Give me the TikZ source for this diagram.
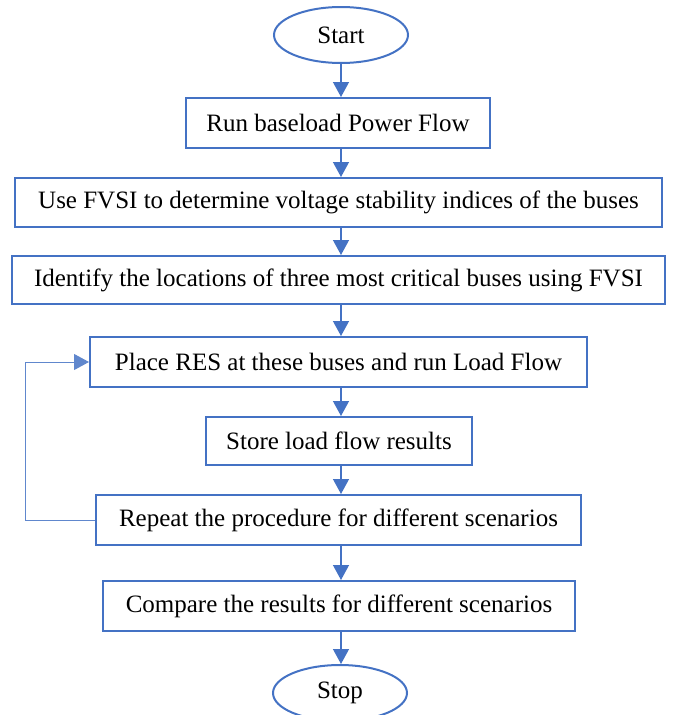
\documentclass[tikz,border=0pt]{standalone}
\usepackage{fontspec}
\setmainfont{Liberation Serif}
\usetikzlibrary{shapes.geometric,arrows.meta}

\definecolor{flowblue}{HTML}{4472C4}

\begin{document}
\begin{tikzpicture}[x=1pt,y=-1pt,
  every node/.style={font=\fontsize{25}{29}\selectfont, text=black},
  procbox/.style={draw=flowblue, line width=2pt, rectangle, inner sep=0pt, fill=white},
  terminal/.style={draw=flowblue, line width=2pt, ellipse, inner sep=0pt,
    minimum width=134, minimum height=56, fill=white},
  flow/.style={draw=flowblue, line width=1.3pt, -{Triangle[length=15pt,width=16pt]}},
  loopline/.style={draw=flowblue!85, line width=1pt, -{Triangle[length=15pt,width=16pt]}}]

\useasboundingbox (0,0) rectangle (676,715);

\node[terminal] (start) at (341,35) {Start};
\node[procbox, minimum width=304, minimum height=50] (b1) at (338,123) {Run baseload Power Flow};
\node[procbox, minimum width=647, minimum height=49] (b2) at (338.5,202.5) {Use FVSI to determine voltage stability indices of the buses};
\node[procbox, minimum width=653, minimum height=48] (b3) at (338.5,280) {Identify the locations of three most critical buses using FVSI};
\node[procbox, minimum width=497, minimum height=50] (b4) at (338.5,362) {Place RES at these buses and run Load Flow};
\node[procbox, minimum width=266, minimum height=48] (b5) at (339,441) {Store load flow results};
\node[procbox, minimum width=485, minimum height=50] (b6) at (338.5,520) {Repeat the procedure for different scenarios};
\node[procbox, minimum width=472, minimum height=50] (b7) at (339,606) {Compare the results for different scenarios};
\node[terminal] (stop) at (340,693) {Stop};

\draw[flow] (start.south) -- (start.south |- b1.north);
\draw[flow] (b1.south -| start.south) -- (start.south |- b2.north);
\draw[flow] (b2.south -| start.south) -- (start.south |- b3.north);
\draw[flow] (b3.south -| start.south) -- (start.south |- b4.north);
\draw[flow] (b4.south -| start.south) -- (start.south |- b5.north);
\draw[flow] (b5.south -| start.south) -- (start.south |- b6.north);
\draw[flow] (b6.south -| start.south) -- (start.south |- b7.north);
\draw[flow] (b7.south -| start.south) -- (start.south |- stop.north);

% feedback loop back to the load-flow step
\coordinate (loopx) at (25,520);
\draw[loopline] (b6.west) -- (loopx) |- (b4.west);
\end{tikzpicture}
\end{document}
